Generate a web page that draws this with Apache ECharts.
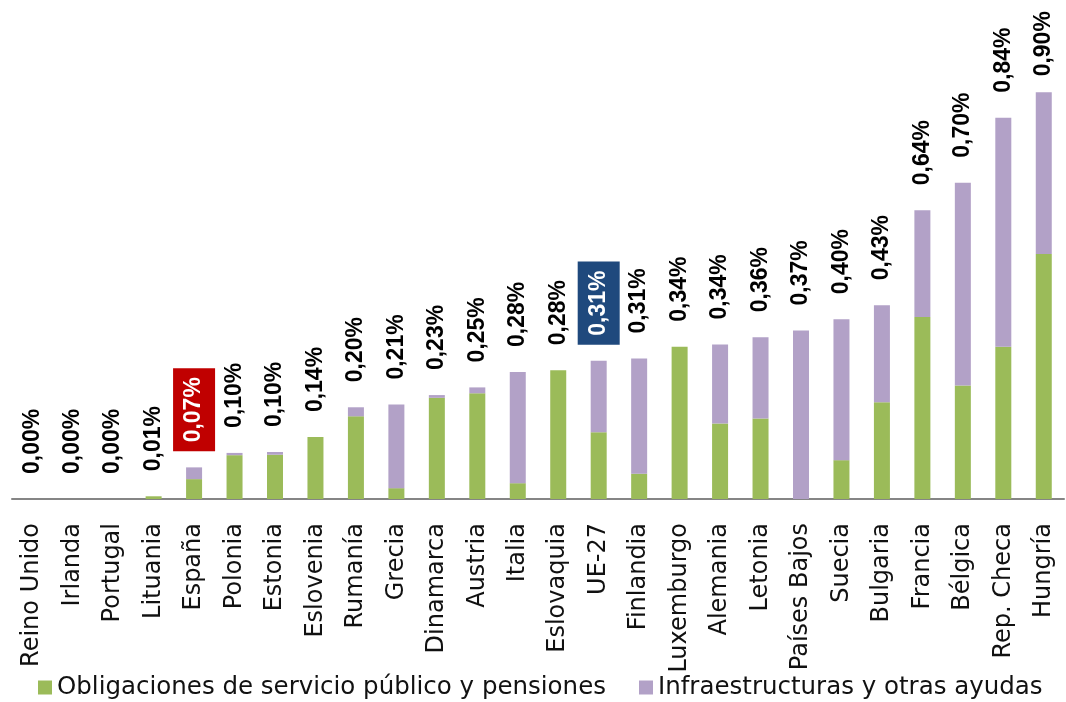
<!DOCTYPE html>
<html>
<head>
<meta charset="utf-8">
<script src="https://cdn.jsdelivr.net/npm/echarts@6/dist/echarts.min.js"></script>
<style>
  html, body { margin: 0; padding: 0; background: #fff; }
  #chart { width: 1066px; height: 702px; }
</style>
</head>
<body>
<div id="chart"></div>
<script>
const categories = ['Reino Unido', 'Irlanda', 'Portugal', 'Lituania', 'España', 'Polonia', 'Estonia', 'Eslovenia',
  'Rumanía', 'Grecia', 'Dinamarca', 'Austria', 'Italia', 'Eslovaquia', 'UE-27', 'Finlandia', 'Luxemburgo',
  'Alemania', 'Letonia', 'Países Bajos', 'Suecia', 'Bulgaria', 'Francia', 'Bélgica', 'Rep. Checa', 'Hungría'];

// Obligaciones de servicio público y pensiones (% PIB)
const obligaciones = [0, 0, 0, 0.006, 0.044, 0.097, 0.098, 0.137, 0.183, 0.024, 0.224, 0.234, 0.035, 0.285,
  0.148, 0.056, 0.337, 0.167, 0.178, 0, 0.086, 0.214, 0.403, 0.251, 0.337, 0.542];

// Infraestructuras y otras ayudas (% PIB)
const infraestructuras = [0, 0, 0, 0, 0.026, 0.005, 0.006, 0, 0.02, 0.185, 0.006, 0.013, 0.246, 0, 0.158,
  0.255, 0, 0.175, 0.18, 0.373, 0.312, 0.215, 0.236, 0.449, 0.507, 0.358];

// totales mostrados sobre cada barra
const totales = [0.00, 0.00, 0.00, 0.01, 0.07, 0.10, 0.10, 0.14, 0.20, 0.21, 0.23, 0.25, 0.28, 0.28, 0.31,
  0.31, 0.34, 0.34, 0.36, 0.37, 0.40, 0.43, 0.64, 0.70, 0.84, 0.90];

const destacados = { 'España': '#C00000', 'UE-27': '#1F497D' };

const fmt = v => v.toFixed(2).replace('.', ',') + '%';

const chart = echarts.init(document.getElementById('chart'));

const topData = infraestructuras.map((v, i) => {
  const bg = destacados[categories[i]];
  if (bg) {
    return {
      value: v,
      label: { backgroundColor: bg, color: '#fff', padding: [11, 9, 8, 9], distance: 16 }
    };
  }
  // the last label is pushed down against the top edge, as in the original
  if (i === categories.length - 1) return { value: v, label: { distance: 16 } };
  return v;
});

const option = {
  animation: false,
  grid: { left: 12, right: 2, top: 2, bottom: 203 },
  legend: {
    left: 33,
    top: 670,
    icon: 'rect',
    itemWidth: 14,
    itemHeight: 14,
    itemGap: 33,
    textStyle: { fontFamily: 'DejaVu Sans', fontSize: 24.5, color: '#111' },
    data: ['Obligaciones de servicio público y pensiones', 'Infraestructuras y otras ayudas']
  },
  xAxis: {
    type: 'category',
    data: categories,
    axisLine: { lineStyle: { color: '#858585', width: 2 } },
    axisTick: { length: 6, lineStyle: { color: '#858585', width: 2 } },
    axisLabel: {
      interval: 0,
      rotate: 90,
      margin: 24,
      fontFamily: 'DejaVu Sans',
      fontSize: 24,
      color: '#111'
    }
  },
  yAxis: {
    type: 'value',
    min: 0,
    max: 1.1,
    show: false,
    splitLine: { show: false }
  },
  series: [
    {
      name: 'Obligaciones de servicio público y pensiones',
      type: 'bar',
      stack: 'total',
      barWidth: 16,
      itemStyle: { color: '#9BBB59' },
      data: obligaciones
    },
    {
      name: 'Infraestructuras y otras ayudas',
      type: 'bar',
      stack: 'total',
      barWidth: 16,
      itemStyle: { color: '#B2A1C7' },
      label: {
        show: true,
        position: 'top',
        rotate: 90,
        align: 'left',
        verticalAlign: 'middle',
        distance: 25,
        fontFamily: 'Liberation Sans',
        fontWeight: 'bold',
        fontSize: 23,
        color: '#000',
        formatter: p => fmt(totales[p.dataIndex])
      },
      data: topData
    }
  ]
};

chart.setOption(option);
</script>
</body>
</html>
